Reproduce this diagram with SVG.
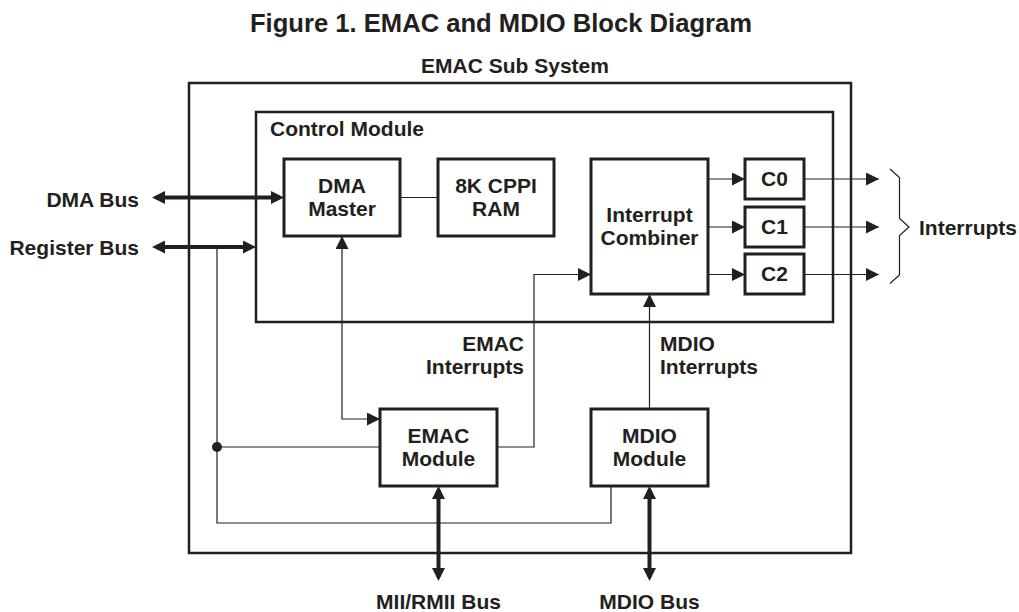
<svg xmlns="http://www.w3.org/2000/svg" width="1019" height="612" viewBox="0 0 1019 612">
<style>
text{font-family:"Liberation Sans",Arial,sans-serif;font-weight:bold;font-size:21px;fill:#231f20}
.title{font-size:25.6px}
.c{text-anchor:middle}
.r{text-anchor:end}
.node{fill:#fff;stroke:#231f20;stroke-width:3}
.cont{fill:none;stroke:#231f20;stroke-width:2.5}
.thin{fill:none;stroke:#231f20;stroke-width:1.2}
.thick{fill:none;stroke:#231f20;stroke-width:4}
</style>
<defs>
<marker id="ah" markerUnits="userSpaceOnUse" markerWidth="13" markerHeight="13" refX="13" refY="6.5" orient="auto-start-reverse"><path d="M0,0 L13,6.5 L0,13 z" fill="#231f20"/></marker>
<marker id="aht" markerUnits="userSpaceOnUse" markerWidth="13" markerHeight="13" refX="9" refY="6.5" orient="auto-start-reverse"><path d="M0,0 L13,6.5 L0,13 z" fill="#231f20"/></marker>
</defs>
<rect width="1019" height="612" fill="#fff"/>
<text class="title c" x="501" y="32">Figure 1. EMAC and MDIO Block Diagram</text>
<g id="emac-sub-system">
<rect class="cont" x="189" y="83" width="662" height="470"/>
<text class="c" x="515" y="73">EMAC Sub System</text>
</g>
<g id="control-module">
<rect class="cont" x="256" y="112" width="577" height="210"/>
<text x="270" y="136">Control Module</text>
</g>
<g id="connectors">
<path class="thick" d="M156,197.5 H280" marker-start="url(#aht)" marker-end="url(#aht)"/>
<path class="thick" d="M156,247 H252" marker-start="url(#aht)" marker-end="url(#aht)"/>
<path class="thick" d="M438.5,490 V577" marker-start="url(#aht)" marker-end="url(#aht)"/>
<path class="thick" d="M649.5,490 V577" marker-start="url(#aht)" marker-end="url(#aht)"/>
<path class="thin" d="M217,247 V523 H611 V486"/>
<path class="thin" d="M217,447 H380"/>
<circle cx="217" cy="447" r="5" fill="#231f20"/>
<path class="thin" d="M342,236 V419 H380" marker-start="url(#ah)" marker-end="url(#ah)"/>
<path class="thin" d="M497,447 H534 V274.5 H591" marker-end="url(#ah)"/>
<path class="thin" d="M649.5,409 V294" marker-end="url(#ah)"/>
<path class="thin" d="M400,197.5 H438"/>
<path class="thin" d="M708,179 H745" marker-end="url(#ah)"/>
<path class="thin" d="M708,227 H745" marker-end="url(#ah)"/>
<path class="thin" d="M708,274.5 H745" marker-end="url(#ah)"/>
<path class="thin" d="M804,179 H879" marker-end="url(#ah)"/>
<path class="thin" d="M804,227 H879" marker-end="url(#ah)"/>
<path class="thin" d="M804,274.5 H879" marker-end="url(#ah)"/>
<path class="thin" d="M890,169 L899.5,177.5 V218.5 L909,227 L899.5,235.5 V275 L890,283.5"/>
</g>
<g id="labels">
<text class="r" x="139" y="207">DMA Bus</text>
<text class="r" x="139" y="255">Register Bus</text>
<text x="919" y="235">Interrupts</text>
<text class="r" x="524" y="351">EMAC</text>
<text class="r" x="524" y="374">Interrupts</text>
<text x="660" y="351">MDIO</text>
<text x="660" y="374">Interrupts</text>
<text class="c" x="438.5" y="609">MII/RMII Bus</text>
<text class="c" x="649.5" y="609">MDIO Bus</text>
</g>
<g id="dma-master">
<rect class="node" x="284" y="159" width="116" height="77"/>
<text class="c" x="342" y="193">DMA</text>
<text class="c" x="342" y="216">Master</text>
</g>
<g id="cppi-ram">
<rect class="node" x="438" y="159" width="116" height="77"/>
<text class="c" x="496" y="193">8K CPPI</text>
<text class="c" x="496" y="216">RAM</text>
</g>
<g id="interrupt-combiner">
<rect class="node" x="591" y="159" width="117" height="135"/>
<text class="c" x="649.5" y="222">Interrupt</text>
<text class="c" x="649.5" y="245">Combiner</text>
</g>
<g id="c0">
<rect class="node" x="745" y="159" width="59" height="40"/>
<text class="c" x="774.5" y="186">C0</text>
</g>
<g id="c1">
<rect class="node" x="745" y="207" width="59" height="40"/>
<text class="c" x="774.5" y="234">C1</text>
</g>
<g id="c2">
<rect class="node" x="745" y="254" width="59" height="40"/>
<text class="c" x="774.5" y="281">C2</text>
</g>
<g id="emac-module">
<rect class="node" x="380" y="409" width="117" height="77"/>
<text class="c" x="438.5" y="443">EMAC</text>
<text class="c" x="438.5" y="466">Module</text>
</g>
<g id="mdio-module">
<rect class="node" x="591" y="409" width="117" height="77"/>
<text class="c" x="649.5" y="443">MDIO</text>
<text class="c" x="649.5" y="466">Module</text>
</g>
</svg>
